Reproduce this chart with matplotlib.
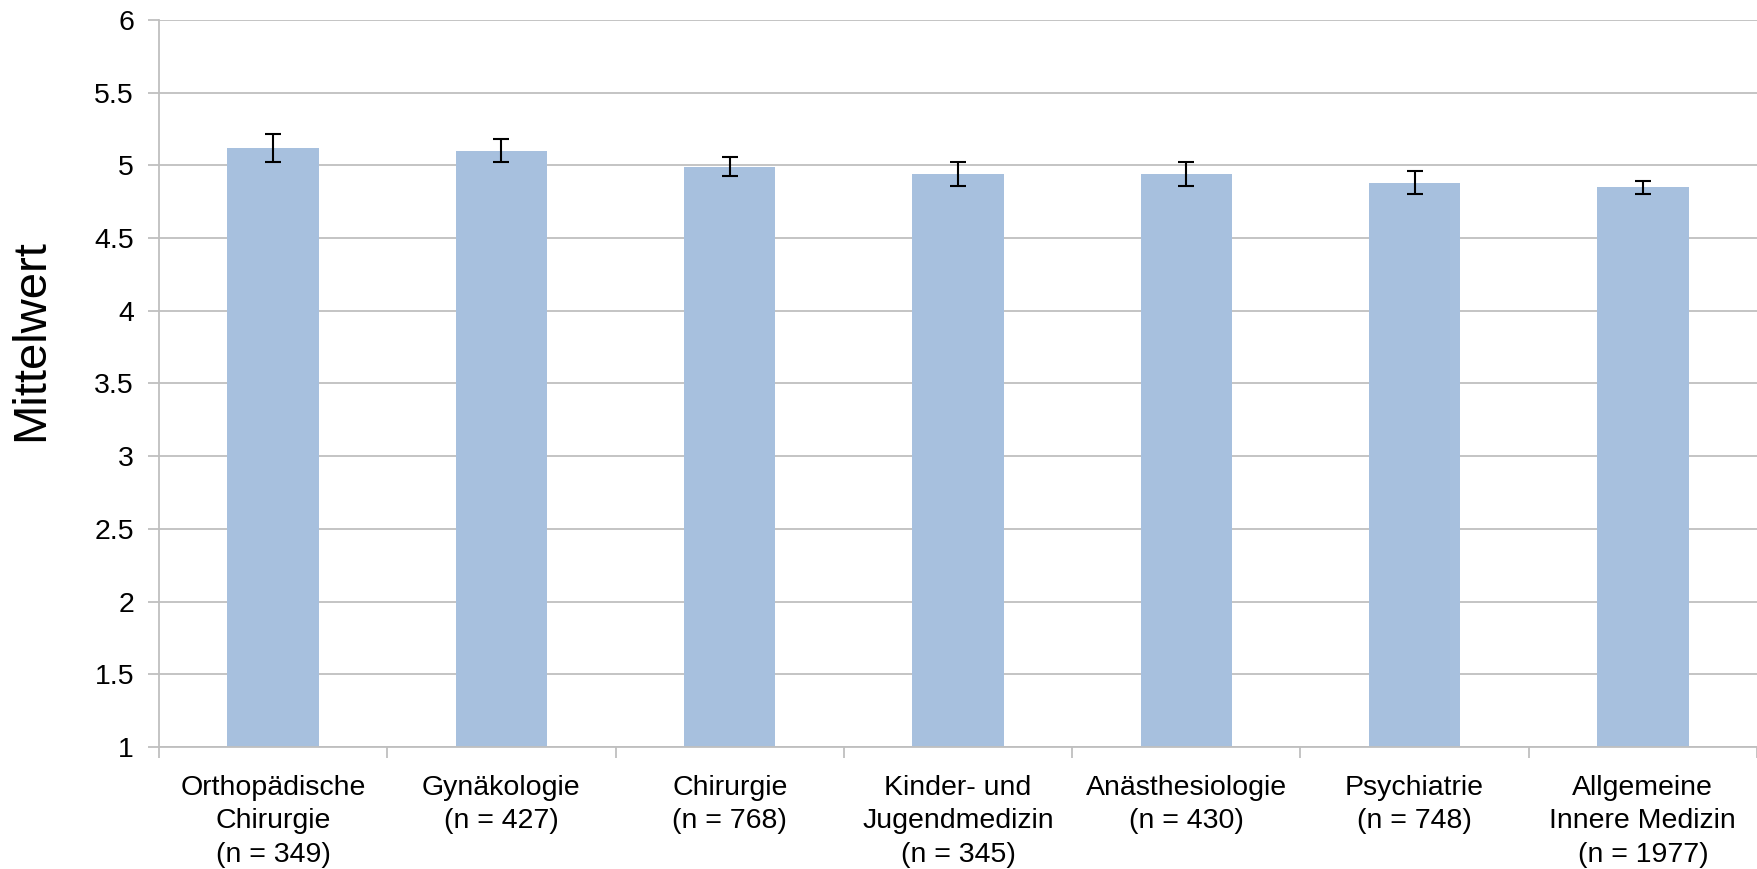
import matplotlib.pyplot as plt
import numpy as np

plt.rcParams['font.family'] = ['Liberation Sans', 'DejaVu Sans']

# Fachgebiete und Mittelwerte
labels = ["Orthopädische\nChirurgie\n(n = 349)", "Gynäkologie\n(n = 427)",
          "Chirurgie\n(n = 768)", "Kinder- und\nJugendmedizin\n(n = 345)",
          "Anästhesiologie\n(n = 430)", "Psychiatrie\n(n = 748)",
          "Allgemeine\nInnere Medizin\n(n = 1977)"]
means = [5.12, 5.10, 4.99, 4.94, 4.94, 4.88, 4.85]
errors = [0.095, 0.08, 0.065, 0.085, 0.085, 0.08, 0.045]

fig = plt.figure(figsize=(17.57, 8.69), dpi=100)
ax = fig.add_axes([0.0905, 0.1404, 0.9095, 0.8366])

x = np.arange(len(means))
ax.bar(x, [m - 1 for m in means], bottom=1, width=0.4, color="#a7c0de", zorder=2)
ax.errorbar(x, means, yerr=errors, fmt="none", ecolor="black", elinewidth=1.5,
            capsize=6, capthick=1.5, zorder=3)

ax.set_ylim(1, 6)
ax.set_xlim(-0.5, len(means) - 0.5)
ax.set_yticks(np.arange(1, 6.01, 0.5))
ax.set_yticklabels(["1", "1.5", "2", "2.5", "3", "3.5", "4", "4.5", "5", "5.5", "6"])
ax.yaxis.grid(True, color="#bfbfbf", linewidth=1.3, zorder=0)
ax.set_axisbelow(True)

ax.set_xticks(x)
ax.set_xticklabels(labels, linespacing=1.38)
ax.set_xticks(np.arange(-0.5, len(means), 1), minor=True)
ax.tick_params(axis="x", which="major", length=0, pad=20, labelsize=20.5)
ax.tick_params(axis="x", which="minor", length=8, color="#bfbfbf", width=1.3)
ax.tick_params(axis="y", length=8, color="#bfbfbf", width=1.3, labelsize=20.5, pad=10)

for s in ["top", "right"]:
    ax.spines[s].set_visible(False)
for s in ["left", "bottom"]:
    ax.spines[s].set_color("#bfbfbf")
    ax.spines[s].set_linewidth(1.3)

ax.set_ylabel("Mittelwert", fontsize=34)
ax.yaxis.set_label_coords(-0.066, 0.56)

fig.savefig("out.png")
